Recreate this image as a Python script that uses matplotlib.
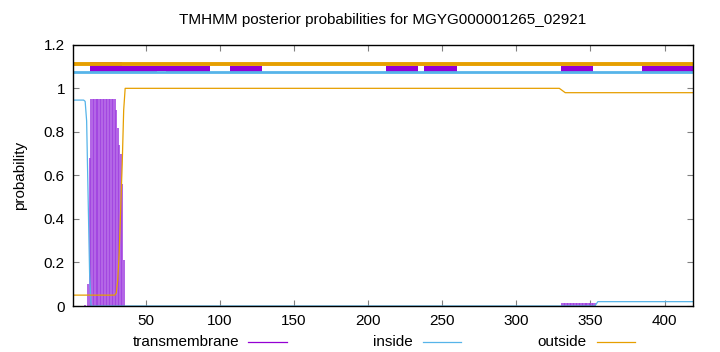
import matplotlib
matplotlib.use("Agg")
import matplotlib.pyplot as plt
from matplotlib.lines import Line2D
from matplotlib.patches import Rectangle

plt.rcParams['font.family'] = ['Liberation Sans', 'DejaVu Sans']

title = "TMHMM posterior probabilities for MGYG000001265_02921"
seq_len = 419

# inside probability (breakpoints)
inside_x = [1, 8, 9, 10, 11, 12, 13, 353, 355, 419]
inside_y = [0.946, 0.946, 0.94, 0.85, 0.5, 0.15, 0.0, 0.0, 0.02, 0.02]

# outside probability (breakpoints)
outside_x = [1, 29, 30, 31, 32, 33, 34, 35, 36, 329, 333, 419]
outside_y = [0.05, 0.05, 0.06, 0.12, 0.25, 0.45, 0.65, 0.9, 1.0, 1.0, 0.98, 0.98]

# transmembrane probability (impulses)
tm_x = [9, 11, 12] + list(range(13, 30)) + [30, 31, 32, 33, 34, 35] + list(range(331, 354))
tm_y = [0.005, 0.1, 0.68] + [0.95] * 17 + [0.9, 0.82, 0.74, 0.70, 0.56, 0.21] + [0.015] * 23

# top track segments
tm_boxes = [(12.3, 34.2), (34.2, 57.4), (57.4, 63.5), (63.5, 93.0), (106.5, 128.2),
            (211.9, 233.5), (237.8, 259.9), (329.8, 351.9), (385.1, 419)]
tm_box_low = [1.069, 1.073, 1.081, 1.073, 1.073, 1.073, 1.073, 1.073, 1.073]
tm_box_high = [1.119, 1.102, 1.102, 1.102, 1.102, 1.102, 1.102, 1.102, 1.102]

c_in = '#56b4e9'
c_out = '#e69f00'
c_tm = '#9400d3'

fig = plt.figure(figsize=(7.2, 3.52), dpi=100)
ax = fig.add_axes([73.3 / 720, 1 - 306 / 352, (692.7 - 73.3) / 720, (306 - 44.8) / 352])

ax.vlines(tm_x, 0, tm_y, color='#a040e0', lw=1.15)
ax.plot(inside_x, inside_y, color=c_in, lw=0.9)
ax.plot(outside_x, outside_y, color=c_out, lw=0.9)

ax.plot([1, seq_len], [1.075, 1.075], color=c_in, lw=2.0, solid_capstyle='butt')
ax.plot([1, seq_len], [1.111, 1.111], color=c_out, lw=2.8, solid_capstyle='butt')
for (s, e), lo, hi in zip(tm_boxes, tm_box_low, tm_box_high):
    ax.add_patch(Rectangle((s, lo), e - s, hi - lo, facecolor=c_tm, edgecolor='none'))

ax.set_xlim(1, seq_len)
ax.set_ylim(0, 1.2)
ax.set_xticks([50, 100, 150, 200, 250, 300, 350, 400])
ax.set_yticks([0, 0.2, 0.4, 0.6, 0.8, 1.0, 1.2])
ax.set_yticklabels(['0', '0.2', '0.4', '0.6', '0.8', '1', '1.2'])
ax.tick_params(direction='in', top=True, right=True, length=4, width=0.8,
               color='#808080', labelsize=11, pad=6)
for sp in ax.spines.values():
    sp.set_linewidth(1.0)
    sp.set_color('black')

ax.set_ylabel('probability', fontsize=11, labelpad=12)
fig.text(383 / 720, 1 - 20 / 352, title, ha='center', va='center', fontsize=11)

legend_items = [('transmembrane', c_tm, 239, 248, 287),
                ('inside', c_in, 413, 423, 461),
                ('outside', c_out, 587, 597, 635)]
ly = 1 - 341.7 / 352
for label, col, tx, l0, l1 in legend_items:
    fig.text(tx / 720, ly, label, ha='right', va='center', fontsize=11)
    fig.add_artist(Line2D([l0 / 720, l1 / 720], [ly, ly], color=col, lw=0.9,
                          transform=fig.transFigure))

fig.savefig('out.png', dpi=100)
